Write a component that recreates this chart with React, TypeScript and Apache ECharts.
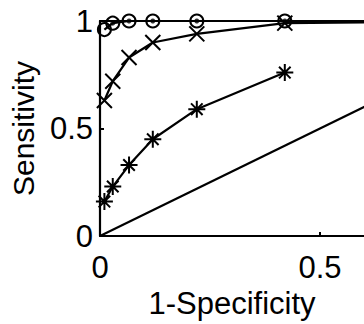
import React, { useEffect, useRef } from "react";
import * as echarts from "echarts";

const fpr = [0.01, 0.029, 0.066, 0.12, 0.22, 0.42];
const sensCircle = [0.96, 0.99, 1.0, 1.0, 1.0, 1.0];
const sensCross = [0.63, 0.72, 0.83, 0.9, 0.94, 0.99];
const sensStar = [0.16, 0.23, 0.33, 0.45, 0.59, 0.76];
const chanceX = [0, 1];
const chanceY = [0, 1];
const xTickLabels = ["0", "0.5"];
const yTickLabels = ["0", "0.5", "1"];

const FONT = "'Liberation Sans', Arial, sans-serif";
const CROSS = "path://M0,0L10,10M10,0L0,10";
const STAR = "path://M5,0L5,10M0,5L10,5M1.6,1.6L8.4,8.4M8.4,1.6L1.6,8.4";

export default function App() {
  const ref = useRef<HTMLDivElement>(null);
  useEffect(() => {
    if (!ref.current) return;
    const chart = echarts.init(ref.current, undefined, { renderer: "svg" });
    const pts = (ys: number[]) => fpr.map((x, i) => [x, ys[i]]);
    const markerStyle = { color: "transparent", borderColor: "#000", borderWidth: 2 };
    chart.setOption({
      animation: false,
      backgroundColor: "#fff",
      grid: { left: 97, right: 0, top: 21, bottom: 86 },
      xAxis: [
        {
          type: "value",
          min: 0,
          max: 0.6,
          interval: 0.5,
          name: "1-Specificity",
          nameLocation: "middle",
          nameGap: 52,
          nameTextStyle: { fontFamily: FONT, fontSize: 31, color: "#000" },
          axisLine: { show: true, onZero: false, lineStyle: { color: "#000", width: 2.2 } },
          axisTick: { show: true, inside: true, length: 4, lineStyle: { color: "#000", width: 2 } },
          axisLabel: {
            fontFamily: FONT,
            fontSize: 31,
            color: "#000",
            margin: 16,
            showMaxLabel: false,
            formatter: (v: number) => (xTickLabels.includes(String(v)) ? String(v) : ""),
          },
          splitLine: { show: false },
        },
        {
          type: "value",
          position: "top",
          min: 0,
          max: 0.6,
          interval: 0.5,
          axisLine: { show: true, onZero: false, lineStyle: { color: "#000", width: 2.2 } },
          axisTick: { show: false },
          axisLabel: { show: false },
          splitLine: { show: false },
        },
      ],
      yAxis: {
        type: "value",
        min: 0,
        max: 1,
        interval: 0.5,
        name: "Sensitivity",
        nameLocation: "middle",
        nameGap: 62,
        nameTextStyle: { fontFamily: FONT, fontSize: 30, color: "#000" },
        axisLine: { show: true, onZero: false, lineStyle: { color: "#000", width: 2.2 } },
        axisTick: { show: true, inside: true, length: 4, lineStyle: { color: "#000", width: 2 } },
        axisLabel: {
          fontFamily: FONT,
          fontSize: 31,
          color: "#000",
          margin: 7,
          formatter: (v: number) => (yTickLabels.includes(String(v)) ? String(v) : ""),
        },
        splitLine: { show: false },
      },
      series: [
        {
          type: "line",
          data: chanceX.map((x, i) => [x, chanceY[i]]),
          showSymbol: false,
          lineStyle: { color: "#000", width: 2.2 },
        },
        {
          type: "line",
          data: pts(sensStar),
          symbol: STAR,
          symbolSize: 17,
          lineStyle: { color: "#000", width: 2.2 },
          itemStyle: markerStyle,
        },
        {
          type: "line",
          data: [...pts(sensCross), [1, 1]],
          symbol: CROSS,
          symbolSize: 15,
          lineStyle: { color: "#000", width: 2.2 },
          itemStyle: markerStyle,
        },
        {
          type: "line",
          data: [...pts(sensCircle), [1, 1]],
          symbol: "circle",
          symbolSize: 13,
          lineStyle: { color: "#000", width: 2.2 },
          itemStyle: markerStyle,
        },
        {
          type: "scatter",
          data: pts(sensCircle).slice(1),
          symbol: "circle",
          symbolSize: 5,
          itemStyle: { color: "#000" },
        },
      ],
    });
    return () => chart.dispose();
  }, []);
  return (
    <div
      ref={ref}
      style={{ position: "absolute", left: 0, top: 0, width: 364, height: 324, background: "#fff" }}
    />
  );
}
